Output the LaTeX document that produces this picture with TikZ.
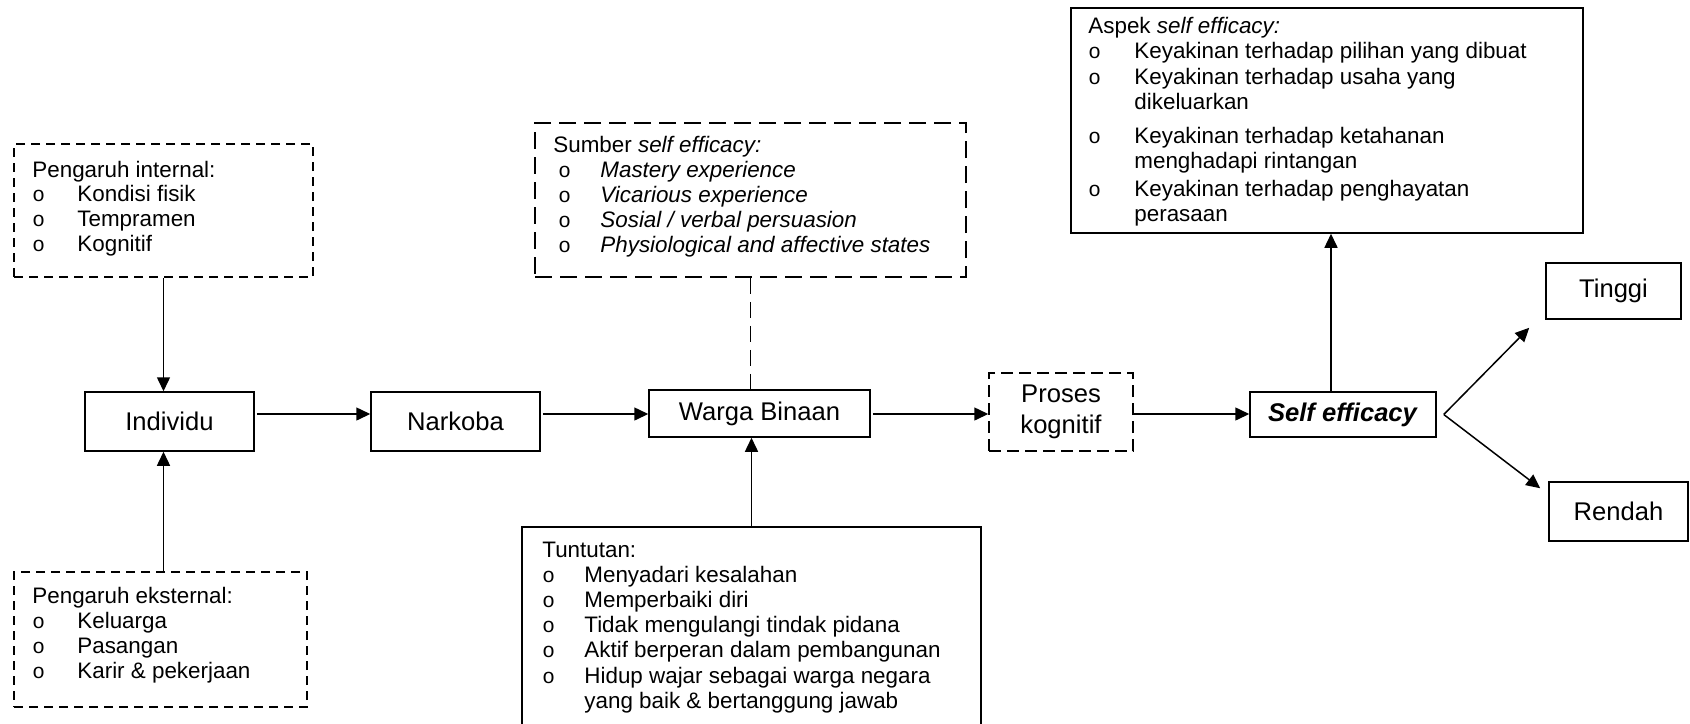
\documentclass[tikz,border=0pt]{standalone}
\usepackage{fontspec}
\setmainfont{Liberation Sans}
\newfontfamily\bulfont{Liberation Mono}
\usetikzlibrary{arrows.meta,calc}
\newcommand\bul{{\bulfont\fontsize{10.5}{12}\selectfont o}}
\newcommand\itm[2][22.5pt]{\makebox[#1][l]{\bul}#2}
\newcommand\lstbox[1]{\begin{tabular}[t]{@{}l@{}}#1\end{tabular}}
\begin{document}
\begin{tikzpicture}[x=0.5pt,y=-0.5pt,
  box/.style={draw, line width=0.75pt, inner sep=0pt, rectangle},
  dbox/.style={box, dash pattern=on 4.5pt off 3pt},
  lbl/.style={font=\fontsize{12.8}{15.4}\selectfont, align=center},
  lsttxt/.style={anchor=base west, inner sep=0pt},
  arr/.style={line width=0.75pt, -{Triangle[length=7pt,width=6.5pt]}},
  conn/.style={line width=0.75pt}]
\useasboundingbox (0,0) rectangle (1690,723);

% list boxes
\node[dbox, minimum width=149.5pt, minimum height=66.5pt] (bint) at (163.5,210.5) {};
\node[dbox, minimum width=146.5pt, minimum height=67.5pt] (bext) at (160.5,639.5) {};
\node[box, dash pattern=on 8.5pt off 4pt, minimum width=215.5pt, minimum height=77pt] (bsum) at (750.5,200) {};
\node[box, minimum width=229.5pt, minimum height=104pt] (btun) at (751.5,631) {};
\node[box, minimum width=256pt, minimum height=112.5pt] (basp) at (1327,120.5) {};

% list texts
\node[lsttxt, font=\fontsize{11.2}{12.4}\selectfont] (tint) at (32,177) {\lstbox{Pengaruh internal:\\ \itm{Kondisi fisik}\\ \itm{Tempramen}\\ \itm{Kognitif}}};
\node[lsttxt, font=\fontsize{11.2}{12.5}\selectfont] (text) at (32,603) {\lstbox{Pengaruh eksternal:\\ \itm{Keluarga}\\ \itm{Pasangan}\\ \itm{Karir \& pekerjaan}}};
\node[lsttxt, font=\fontsize{11.2}{12.5}\selectfont] (tsum) at (553,152) {\lstbox{Sumber \textit{self efficacy:}\\
  \hspace*{2.5pt}\itm[21pt]{\textit{Mastery experience}}\\
  \hspace*{2.5pt}\itm[21pt]{\textit{Vicarious experience}}\\
  \hspace*{2.5pt}\itm[21pt]{\textit{Sosial / verbal persuasion}}\\
  \hspace*{2.5pt}\itm[21pt]{\textit{Physiological and affective states}}}};
\node[lsttxt, font=\fontsize{11.2}{12.6}\selectfont] (ttun) at (542,557) {\lstbox{Tuntutan:\\
  \itm[21pt]{Menyadari kesalahan}\\
  \itm[21pt]{Memperbaiki diri}\\
  \itm[21pt]{Tidak mengulangi tindak pidana}\\
  \itm[21pt]{Aktif berperan dalam pembangunan}\\
  \itm[21pt]{Hidup wajar sebagai warga negara}\\
  \hspace*{21pt}yang baik \& bertanggung jawab}};
\node[lsttxt, font=\fontsize{11.2}{12.75}\selectfont] (tasp) at (1088,33) {\lstbox{Aspek \textit{self efficacy:}\\
  \itm[23pt]{Keyakinan terhadap pilihan yang dibuat}\\
  \itm[23pt]{Keyakinan terhadap usaha yang}\\
  \hspace*{23pt}dikeluarkan\\[4pt]
  \itm[23pt]{Keyakinan terhadap ketahanan}\\
  \hspace*{23pt}menghadapi rintangan\\[1pt]
  \itm[23pt]{Keyakinan terhadap penghayatan}\\
  \hspace*{23pt}perasaan}};

% main flow boxes
\node[box, lbl, minimum width=84.5pt, minimum height=29.5pt] (ind) at (169.5,421.5) {Individu};
\node[box, lbl, minimum width=84.5pt, minimum height=29.5pt] (nar) at (455.5,421.5) {Narkoba};
\node[box, lbl, minimum width=110.5pt, minimum height=23.5pt] (war) at (759.5,413.5) {Warga Binaan};
\node[box, lbl, dash pattern=on 6pt off 3pt, minimum width=72pt, minimum height=39pt] (pro) at (1061,412) {Proses\\kognitif};
\node[box, lbl, minimum width=93pt, minimum height=22.5pt] (se) at (1343,414.5) {\textbf{\textit{Self efficacy}}};
\node[box, lbl, minimum width=67.5pt, minimum height=28pt] (tin) at (1613.5,291) {Tinggi};
\node[box, lbl, minimum width=69.5pt, minimum height=29.5pt] (ren) at (1618.5,511.5) {Rendah};

% connectors
\coordinate (hl) at (0,414);
\coordinate (vx) at (1331,0);
\draw[arr, shorten <=1pt] (ind.east |- hl) -- (nar.west |- hl);
\draw[arr, shorten <=1pt] (nar.east |- hl) -- (war.west |- hl);
\draw[arr, shorten <=1pt] (war.east |- hl) -- (pro.west |- hl);
\draw[arr] (pro.east |- hl) -- (se.west |- hl);
\draw[arr] (bint.south) -- (bint.south |- ind.north);
\draw[arr] (bext.north -| bint.south) -- (bint.south |- ind.south);
\draw[conn, dash pattern=on 8pt off 4pt] (bsum.south) -- (bsum.south |- war.north);
\draw[arr] (btun.north) -- (btun.north |- war.south);
\draw[arr] (se.north -| vx) -- (basp.south -| vx);
\coordinate (fork) at ([xshift=3.5pt]se.east);
\draw[arr] (fork) -- ([xshift=-8pt,yshift=-4pt]tin.south west);
\draw[arr] (fork) -- ([xshift=-4pt,yshift=-3.5pt]ren.north west);
\end{tikzpicture}
\end{document}
